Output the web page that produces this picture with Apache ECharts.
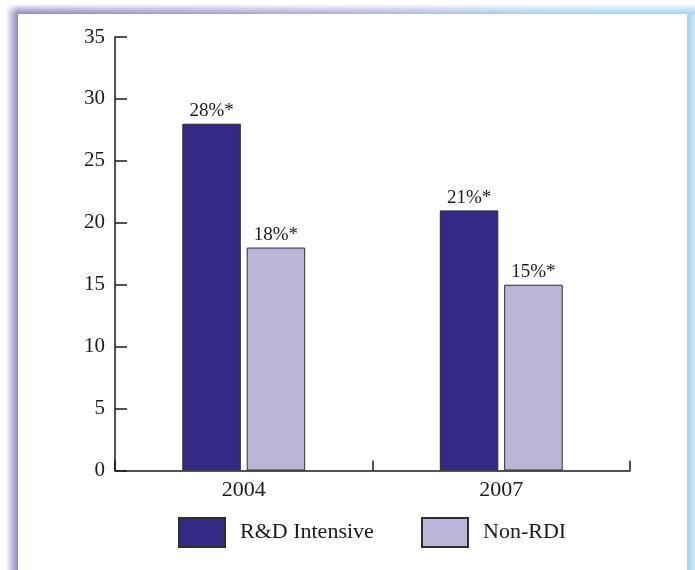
<!DOCTYPE html>
<html>
<head>
<meta charset="utf-8">
<title>R&amp;D Intensive vs Non-RDI</title>
<script src="https://cdn.jsdelivr.net/npm/echarts@6/dist/echarts.min.js"></script>
<style>
  html, body { margin: 0; padding: 0; background: #ffffff; }
  #chart { width: 695px; height: 570px; }
</style>
</head>
<body>
<div id="chart"></div>
<script>
// Survey years on the category axis
const years = ['2004', '2007'];
// Share of firms (%) per group
const rdIntensive = [28, 21];
const nonRdi = [18, 15];
// Value axis range and step
const yMin = 0;
const yMax = 35;
const yStep = 5;
const seriesNames = ['R&D Intensive', 'Non-RDI'];

const ink = '#1d1a1b';
const serif = 'Liberation Serif';
const darkBar = '#332a86';
const lightBar = '#b9b5d7';

const chart = echarts.init(document.getElementById('chart'), null, { renderer: 'canvas' });

const valueLabel = {
  show: true,
  position: 'top',
  distance: 3,
  fontFamily: serif,
  fontSize: 19,
  color: ink,
  formatter: p => p.value + '%*'
};

const legendBase = {
  orient: 'horizontal',
  top: 517,
  padding: 0,
  itemWidth: 46,
  itemHeight: 29,
  icon: 'rect',
  selectedMode: false,
  textStyle: { fontFamily: serif, fontSize: 22, color: ink, padding: [0, 0, 0, 10] }
};

chart.setOption({
  animation: false,
  backgroundColor: '#ffffff',
  graphic: [
    // left frame edge
    {
      type: 'rect', z: -10, silent: true,
      shape: { x: 6, y: 4, width: 12, height: 566 },
      style: {
        fill: new echarts.graphic.LinearGradient(0, 0, 1, 0, [
          { offset: 0, color: 'rgba(142,137,195,0)' },
          { offset: 0.5, color: 'rgba(142,137,195,0.55)' },
          { offset: 1, color: 'rgba(142,137,195,1)' }
        ])
      }
    },
    // top frame edge, purple fading to sky blue
    {
      type: 'rect', z: -9, silent: true,
      shape: { x: 18, y: 4, width: 677, height: 10 },
      style: {
        fill: new echarts.graphic.LinearGradient(0, 0, 1, 0, [
          { offset: 0, color: '#8e89c3' },
          { offset: 0.5, color: '#b2b1d8' },
          { offset: 0.8, color: '#a9d3ee' },
          { offset: 1, color: '#a6d4ef' }
        ])
      }
    },
    {
      type: 'rect', z: -8, silent: true,
      shape: { x: 6, y: 4, width: 689, height: 10 },
      style: {
        fill: new echarts.graphic.LinearGradient(0, 0, 0, 1, [
          { offset: 0, color: 'rgba(255,255,255,1)' },
          { offset: 0.5, color: 'rgba(255,255,255,0.45)' },
          { offset: 1, color: 'rgba(255,255,255,0)' }
        ])
      }
    },
    // right frame edge
    {
      type: 'rect', z: -9, silent: true,
      shape: { x: 687, y: 14, width: 8, height: 556 },
      style: {
        fill: new echarts.graphic.LinearGradient(0, 0, 1, 0, [
          { offset: 0, color: '#a6d4ef' },
          { offset: 1, color: '#cfe8f7' }
        ])
      }
    }
  ],
  grid: { left: 115, right: 65, top: 37, bottom: 99.5, containLabel: false },
  legend: [
    Object.assign({}, legendBase, { left: 178, data: [seriesNames[0]] }),
    Object.assign({}, legendBase, { left: 421, data: [seriesNames[1]] })
  ],
  xAxis: {
    type: 'category',
    data: years,
    boundaryGap: true,
    axisLine: { show: true, lineStyle: { color: ink, width: 1.5 } },
    axisTick: { show: true, inside: true, length: 10, interval: 0, lineStyle: { color: ink, width: 1.5 } },
    axisLabel: { margin: 9, fontFamily: serif, fontSize: 22, color: ink },
    splitLine: { show: false }
  },
  yAxis: {
    type: 'value',
    min: yMin,
    max: yMax,
    interval: yStep,
    axisLine: { show: true, lineStyle: { color: ink, width: 1.5 } },
    axisTick: { show: true, inside: true, length: 12, lineStyle: { color: ink, width: 1.5 } },
    axisLabel: { margin: 10, padding: [4, 0, 0, 0], fontFamily: serif, fontSize: 21, color: ink },
    splitLine: { show: false }
  },
  series: [
    {
      name: seriesNames[0],
      type: 'bar',
      data: rdIntensive,
      barWidth: 58.5,
      barGap: '10%',
      itemStyle: { color: darkBar, borderColor: '#2e2e2e', borderWidth: 1 },
      label: valueLabel
    },
    {
      name: seriesNames[1],
      type: 'bar',
      data: nonRdi,
      barWidth: 58.5,
      barGap: '10%',
      itemStyle: { color: lightBar, borderColor: '#2e2e2e', borderWidth: 1 },
      label: valueLabel
    }
  ]
});
</script>
</body>
</html>
